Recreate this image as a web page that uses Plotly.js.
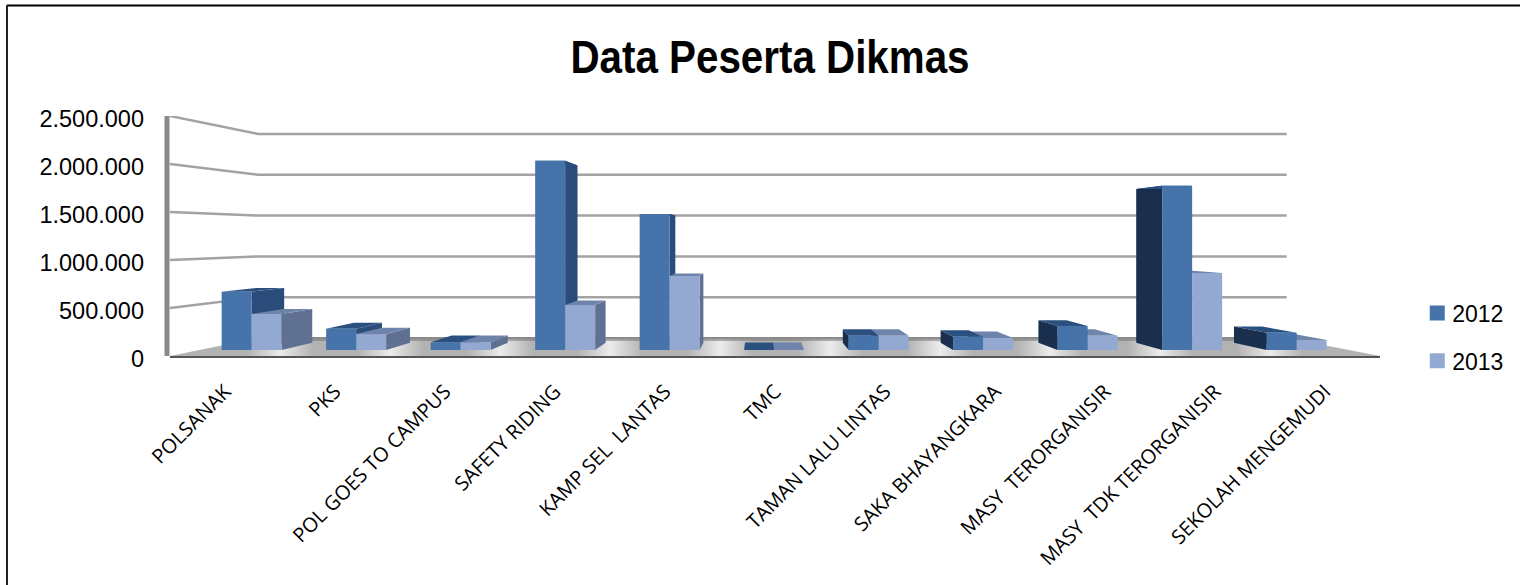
<!DOCTYPE html>
<html>
<head>
<meta charset="utf-8">
<script src="https://cdn.plot.ly/plotly-3.0.1.min.js"></script>
<style>html,body{margin:0;padding:0;background:#fff}#chart{width:1520px;height:585px}</style>
</head>
<body>
<div id="chart"></div>
<script>
const categories = ['POLSANAK','PKS','POL GOES TO CAMPUS','SAFETY RIDING','KAMP SEL  LANTAS','TMC','TAMAN LALU LINTAS','SAKA BHAYANGKARA','MASY  TERORGANISIR','MASY  TDK TERORGANISIR','SEKOLAH MENGEMUDI'];
const values2012 = [640000,234000,85000,2075000,1491000,1000,157000,146000,263000,1801000,190000];
const values2013 = [395000,175000,85000,493000,811000,1000,157000,132000,157000,844000,110000];
const yTickVals = [0,500000,1000000,1500000,2000000,2500000];
const yTickText = ['0','500.000','1.000.000','1.500.000','2.000.000','2.500.000'];

// Colours for the faces of the 3D bars
const front = {y12:'#4673a9', y13:'#93a9d1'};
const sideR = {y12:'#2b4c7a', y13:'#5f7093'};
const sideL = {y12:'#1a2f4e', y13:'#3c4a68'};
const topF  = {y12:'#2a5080', y13:'#6f84ab'};

// Perspective model of the chart box
const VX = 5.345, VY = 1250000, T_FRONT = 0.05, T_BACK = 0.111, T_WALL = 0.15, BAR_W = 0.287;
const XMAX = 11, YMAX = 2500000;
const px = (u,t) => VX + (u-VX)*(1-t);
const py = (v,t) => VY + (v-VY)*(1-t);
function poly(pts,color,extra){
  return Object.assign({type:'scatter',mode:'lines',x:pts.map(p=>px(p[0],p[2])).concat(px(pts[0][0],pts[0][2])),
    y:pts.map(p=>py(p[1],p[2])).concat(py(pts[0][1],pts[0][2])),fill:'toself',fillcolor:color,
    line:{width:0,color:color},hoverinfo:'skip',showlegend:false,xaxis:'x',yaxis:'y'},extra||{});
}
const traces = [];

// Floor with the bright reflections between the categories
const floorStops = [];
for(let i=0;i<=XMAX;i++){
  const c = i/XMAX, d = 0.1/XMAX;
  if(i>0) floorStops.push([c-d*3,'#b2b2b2']);
  floorStops.push([c,(i===0||i===XMAX)?'#b4b4b4':'#ececec']);
  if(i<XMAX) floorStops.push([c+d*3,'#b2b2b2']);
}
traces.push(poly([[0,0,0],[XMAX,0,0],[XMAX,0,T_WALL],[0,0,T_WALL]],'#b2b2b2',
  {fillgradient:{type:'horizontal',colorscale:floorStops,start:0,stop:XMAX}}));
traces.push(poly([[0,0,0.125],[XMAX,0,0.125],[XMAX,0,T_WALL],[0,0,T_WALL]],'rgba(120,120,120,0.55)'));

// Gridlines on the side and back walls
yTickVals.forEach(v=>{
  if(v===0) return;
  traces.push({type:'scatter',mode:'lines',x:[px(0,0),px(0,T_WALL),px(XMAX,T_WALL)],
    y:[py(v,0),py(v,T_WALL),py(v,T_WALL)],line:{color:'#a3a3a3',width:2.5},hoverinfo:'skip',showlegend:false});
});
traces.push({type:'scatter',mode:'lines',x:[px(0,T_WALL),px(XMAX,T_WALL)],y:[py(0,T_WALL),py(0,T_WALL)],
  line:{color:'#8a8a8a',width:2},hoverinfo:'skip',showlegend:false});

// Side and top faces of the bars, far bar first
function faces(u0,u1,v,key){
  const out=[];
  if(u0>VX) out.push(poly([[u0,0,T_FRONT],[u0,v,T_FRONT],[u0,v,T_BACK],[u0,0,T_BACK]],sideL[key]));
  if(u1<VX) out.push(poly([[u1,0,T_FRONT],[u1,v,T_FRONT],[u1,v,T_BACK],[u1,0,T_BACK]],sideR[key]));
  out.push(poly([[u0,v,T_FRONT],[u1,v,T_FRONT],[u1,v,T_BACK],[u0,v,T_BACK]],topF[key]));
  return out;
}
categories.forEach((c,i)=>{
  const m=i+0.5;
  const a=faces(m-BAR_W,m,values2012[i],'y12'), b=faces(m,m+BAR_W,values2013[i],'y13');
  const ordered = (m<VX) ? a.concat(b) : b.concat(a);
  ordered.forEach(t=>traces.push(t));
});

// Front faces: real bar traces on an overlay so they sit above the side faces
function frontBars(name,vals,offs,color){
  return {type:'bar',name:name,xaxis:'x2',yaxis:'y2',
    x:vals.map((_,i)=>px(i+0.5+offs,T_FRONT)),
    y:vals.map(v=>v*(1-T_FRONT)),
    base:vals.map(()=>py(0,T_FRONT)),
    width:vals.map(()=>BAR_W*(1-T_FRONT)),
    marker:{color:color,line:{width:0}},hoverinfo:'skip',legendgroup:name};
}
traces.push(frontBars('2012',values2012,-BAR_W/2,front.y12));
traces.push(frontBars('2013',values2013,BAR_W/2,front.y13));

const layout = {
  width:1520,height:585,paper_bgcolor:'#fff',plot_bgcolor:'#fff',barmode:'overlay',
  margin:{l:170,r:140,t:116,b:229,pad:0},
  title:{text:'<b>Data Peserta Dikmas</b>',x:770/1520,xref:'container',xanchor:'center',y:1-57/585,yanchor:'middle',
    font:{family:'"Liberation Sans",sans-serif',size:46,color:'#000'}},
  xaxis:{range:[0,XMAX],tickmode:'array',tickvals:categories.map((_,i)=>i+0.5),ticktext:categories,tickangle:-45,
    showgrid:false,zeroline:false,showline:true,linecolor:'#555',linewidth:2,ticks:'',ticklabelstandoff:14,
    tickfont:{family:'"Open Sans",sans-serif',size:20,color:'#000'},fixedrange:true},
  yaxis:{range:[0,YMAX],tickmode:'array',tickvals:yTickVals,ticktext:yTickText,showgrid:false,zeroline:false,
    showline:false,ticks:'',ticklabelstandoff:25,
    tickfont:{family:'"Liberation Sans",sans-serif',size:23.5,color:'#000'},fixedrange:true},
  xaxis2:{overlaying:'x',range:[0,XMAX],visible:false,fixedrange:true},
  yaxis2:{overlaying:'y',range:[0,YMAX],visible:false,fixedrange:true},
  legend:{x:1.025,y:0.269,xanchor:'left',yanchor:'top',tracegroupgap:15,font:{family:'"Liberation Sans",sans-serif',size:23,color:'#000'},bgcolor:'rgba(0,0,0,0)'},
  shapes:[
    {type:'line',xref:'paper',yref:'paper',x0:-3/1210,x1:-3/1210,y0:0,y1:1,layer:'above',line:{color:'#8a8a8a',width:5}},
    {type:'line',xref:'paper',yref:'paper',x0:(7-170)/1210,x1:(1520-170)/1210,y0:(356-5.5)/240,y1:(356-5.5)/240,line:{color:'#000',width:2}},
    {type:'line',xref:'paper',yref:'paper',x0:(7-170)/1210,x1:(7-170)/1210,y0:(356-5)/240,y1:(356-585)/240,line:{color:'#222',width:2}}
  ]
};
Plotly.newPlot('chart',traces,layout,{displayModeBar:false,staticPlot:true}).then(()=>{
  // Condense the title to the reference's narrow width
  const t=document.querySelector('.gtitle');
  if(t){t.setAttribute('textLength','399');t.setAttribute('lengthAdjust','spacingAndGlyphs');}
  // Nudge value labels slightly below their gridline starts
  document.querySelectorAll('.ytick text').forEach(e=>e.setAttribute('dy','2.5'));
  // Legend swatches are 15px squares beside the labels
  document.querySelectorAll('.legendpoints path').forEach(p=>{
    p.setAttribute('d','M7.5,7.5H-7.5V-7.5H7.5Z');
    const m=/translate\(([-\d.]+)[ ,]*([-\d.]*)\)/.exec(p.getAttribute('transform')||'');
    const x=m?parseFloat(m[1]):0, y=m&&m[2]?parseFloat(m[2]):0;
    p.setAttribute('transform','translate('+(x+7)+','+y+')');
  });
  document.querySelectorAll('.legendtext').forEach(e=>e.setAttribute('x',parseFloat(e.getAttribute('x')||0)+2));
});
</script>
</body>
</html>
